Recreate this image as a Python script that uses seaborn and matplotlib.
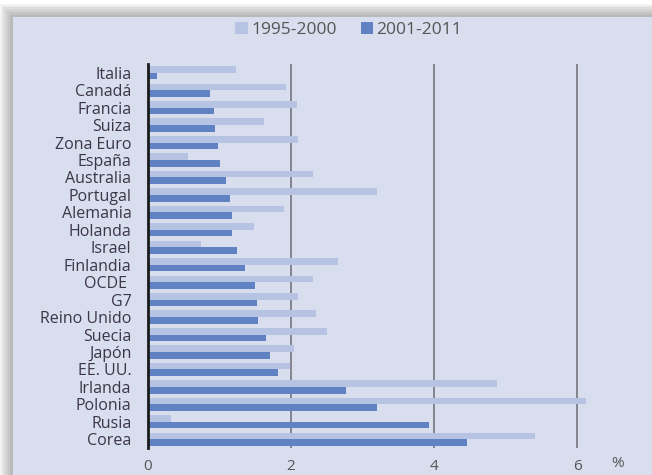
import matplotlib
matplotlib.use('Agg')
import matplotlib.pyplot as plt
import seaborn as sns
import pandas as pd
from matplotlib.patches import Rectangle, Patch

countries = ['Italia', 'Canadá', 'Francia', 'Suiza', 'Zona Euro', 'España',
             'Australia', 'Portugal', 'Alemania', 'Holanda', 'Israel',
             'Finlandia', 'OCDE ', 'G7', 'Reino Unido', 'Suecia', 'Japón',
             'EE. UU.', 'Irlanda', 'Polonia', 'Rusia', 'Corea']
p1995_2000 = [1.23, 1.93, 2.08, 1.62, 2.10, 0.56, 2.31, 3.20, 1.90, 1.48, 0.74,
              2.66, 2.31, 2.10, 2.35, 2.50, 2.04, 1.99, 4.88, 6.13, 0.32, 5.41]
p2001_2011 = [0.13, 0.87, 0.92, 0.94, 0.98, 1.00, 1.09, 1.15, 1.17, 1.17, 1.24,
              1.36, 1.50, 1.52, 1.54, 1.65, 1.71, 1.82, 2.77, 3.20, 3.93, 4.46]
series = ['1995-2000', '2001-2011']
xticks = [0, 2, 4, 6]

df = pd.DataFrame({
    'pais': countries * 2,
    'valor': p1995_2000 + p2001_2011,
    'periodo': [series[0]] * len(countries) + [series[1]] * len(countries),
})

bg = '#d9deef'
colors = {'1995-2000': '#b7c3e3', '2001-2011': '#6082c2'}
text_col = '#3b3548'

sns.set_style('white')
plt.rcParams['font.family'] = ['Open Sans', 'DejaVu Sans']

fig = plt.figure(figsize=(6.52, 4.75), dpi=100)
fig.patch.set_facecolor('white')

# soft shadow + panel behind the axes
for i in range(8):
    off = (8 - i) * 1.6
    fig.patches.append(Rectangle(((13 - off) / 652, 0), 1, 1 - (17 - off) / 475,
                                 transform=fig.transFigure, facecolor='#808080',
                                 alpha=0.09, edgecolor='none', zorder=-3))
fig.patches.append(Rectangle((13 / 652, 0), 1, 1 - 17 / 475,
                             transform=fig.transFigure, facecolor=bg,
                             edgecolor='none', zorder=-2))

ax = fig.add_axes([148 / 652, (475 - 448) / 475, 472 / 652, 384 / 475])
ax.patch.set_alpha(0)

sns.barplot(data=df, y='pais', x='valor', hue='periodo', hue_order=series,
            palette=colors, orient='h', width=0.76, saturation=1,
            linewidth=0, legend=False, ax=ax)

ax.set_xlim(0, 6.6)
ax.set_ylim(len(countries) - 0.5, -0.5)
ax.set_xticks(xticks)
ax.set_xticklabels([str(t) for t in xticks])
for t in xticks[1:]:
    ax.axvline(t, color='#7d7d85', lw=1.3, zorder=0)
ax.set_xlabel('')
ax.set_ylabel('')
for s in ['top', 'right', 'bottom']:
    ax.spines[s].set_visible(False)
ax.spines['left'].set_color('#1a1a1a')
ax.spines['left'].set_linewidth(2)
ax.tick_params(axis='y', length=0, pad=12, labelsize=11.5, labelcolor=text_col)
ax.tick_params(axis='x', length=0, pad=8, labelsize=11, labelcolor='#555555')
ax.text(6.48, -0.02, '%', transform=ax.get_xaxis_transform(), va='top',
        ha='left', fontsize=11, color='#555555')

handles = [Patch(facecolor=colors[s], edgecolor='none', label=s) for s in series]
fig.legend(handles=handles, loc='center', bbox_to_anchor=(0.535, 1 - 30 / 475),
           ncol=2, frameon=False, fontsize=12.5, handlelength=0.7,
           handleheight=0.7, handletextpad=0.2, columnspacing=1.4,
           labelcolor='#555555')

fig.savefig('out.png', dpi=100, facecolor=fig.get_facecolor())
